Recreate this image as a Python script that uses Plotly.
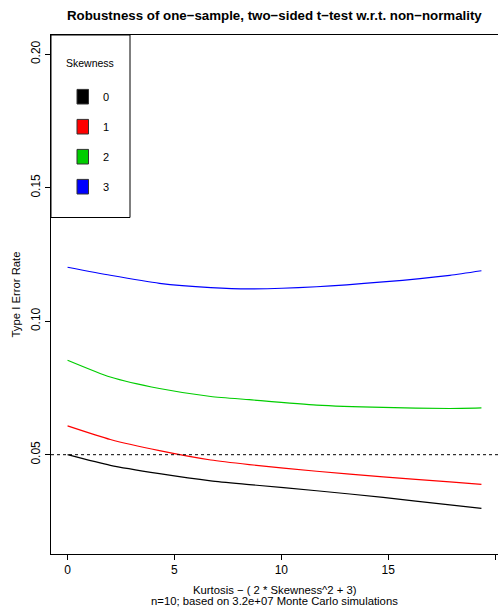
import plotly.graph_objects as go

# ---- data ----
kurtosis_excess = [0, 2, 4.3, 6.7, 8.5, 11.65, 14.76, 17.88, 19.36]
skewness_levels = ["0", "1", "2", "3"]
error_rate_skew0 = [0.0500, 0.0460, 0.0429, 0.0402, 0.0388, 0.0365, 0.0340, 0.0312, 0.0299]
error_rate_skew1 = [0.0608, 0.0557, 0.0515, 0.0480, 0.0463, 0.0438, 0.0417, 0.0398, 0.0389]
error_rate_skew2 = [0.0854, 0.0791, 0.0748, 0.0718, 0.0706, 0.0686, 0.0677, 0.0673, 0.0675]
error_rate_skew3 = [0.1202, 0.1172, 0.1142, 0.1126, 0.1121, 0.1129, 0.1147, 0.1172, 0.1189]
alpha_level = 0.05
x_ticks = [0, 5, 10, 15, 20]
y_ticks = [0.05, 0.10, 0.15, 0.20]
y_tick_labels = ["0.05", "0.10", "0.15", "0.20"]

series = [error_rate_skew0, error_rate_skew1, error_rate_skew2, error_rate_skew3]
colors = ["#000000", "#FF0000", "#00CD00", "#0000FF"]

FONT = "Liberation Sans, Arial, Helvetica, sans-serif"

fig = go.Figure()
for name, vals, col in zip(skewness_levels, series, colors):
    fig.add_trace(go.Scatter(
        x=kurtosis_excess, y=vals, mode="lines", name=name,
        line=dict(color=col, width=1.2, shape="spline", smoothing=0.6),
        showlegend=False, hoverinfo="skip"))

# dotted reference line at alpha
fig.add_shape(type="line", xref="paper", yref="y", x0=0, x1=1,
              y0=alpha_level, y1=alpha_level,
              line=dict(color="black", width=1, dash="dot"))

# ---- layout geometry ----
W, H = 498, 610
ml, mr, mt, mb = 51, 0, 35, 56
pw, ph = W - ml - mr, H - mt - mb

xmax = max(kurtosis_excess)
xext = 0.04 * xmax
ylo, yhi = 0.02, 0.20
yext = 0.04 * (yhi - ylo)

def px_x(p):  # pixel x -> paper
    return (p - ml) / pw

def px_y(p):  # pixel y -> paper
    return (H - mb - p) / ph

def text(txt, x, y, size, angle=0):
    fig.add_annotation(text=txt, xref="paper", yref="paper", x=x, y=y,
                       xanchor="center", yanchor="middle", showarrow=False,
                       textangle=angle,
                       font=dict(family=FONT, size=size, color="black"))

# ---- legend (manual, R style) ----
fig.add_shape(type="rect", xref="paper", yref="paper",
              x0=px_x(51), x1=px_x(130), y0=px_y(217.5), y1=px_y(35),
              line=dict(color="black", width=1), fillcolor="white", layer="above")
text("Skewness", px_x(90), px_y(63.5), 10.5)
for i, (lab, col) in enumerate(zip(skewness_levels, colors)):
    cy = 96.7 + 30 * i
    fig.add_shape(type="rect", xref="paper", yref="paper",
                  x0=px_x(77), x1=px_x(88.5), y0=px_y(cy + 7.3), y1=px_y(cy - 7.3),
                  line=dict(color="#333333", width=1), fillcolor=col, layer="above")
    text(lab, px_x(106), px_y(cy), 11)

# ---- titles ----
text("<b>Robustness of one\u2212sample, two\u2212sided t\u2212test w.r.t. non\u2212normality</b>",
     0.5, px_y(15), 13.3)
text("Kurtosis \u2212 ( 2 * Skewness^2 + 3)", 0.5, px_y(590), 11.3)
text("n=10; based on 3.2e+07 Monte Carlo simulations", 0.5, px_y(600.5), 11.3)
text("Type I Error Rate", px_x(15), 0.5, 11.3, angle=-90)

fig.update_layout(
    width=W, height=H,
    margin=dict(l=ml, r=mr, t=mt, b=mb, pad=0),
    paper_bgcolor="white", plot_bgcolor="white",
    font=dict(family=FONT, size=12, color="black"),
    xaxis=dict(range=[-xext, xmax + xext], tickvals=x_ticks,
               ticks="outside", ticklen=5, tickwidth=1, tickcolor="black",
               showline=True, linecolor="black", linewidth=1, mirror=True,
               showgrid=False, zeroline=False,
               tickfont=dict(family=FONT, size=12)),
    yaxis=dict(range=[ylo - yext, yhi + yext], tickvals=y_ticks, ticktext=y_tick_labels,
               tickangle=-90,
               ticks="outside", ticklen=5, tickwidth=1, tickcolor="black",
               showline=True, linecolor="black", linewidth=1, mirror=True,
               showgrid=False, zeroline=False,
               tickfont=dict(family=FONT, size=12)),
)

fig.write_html("out.html")
